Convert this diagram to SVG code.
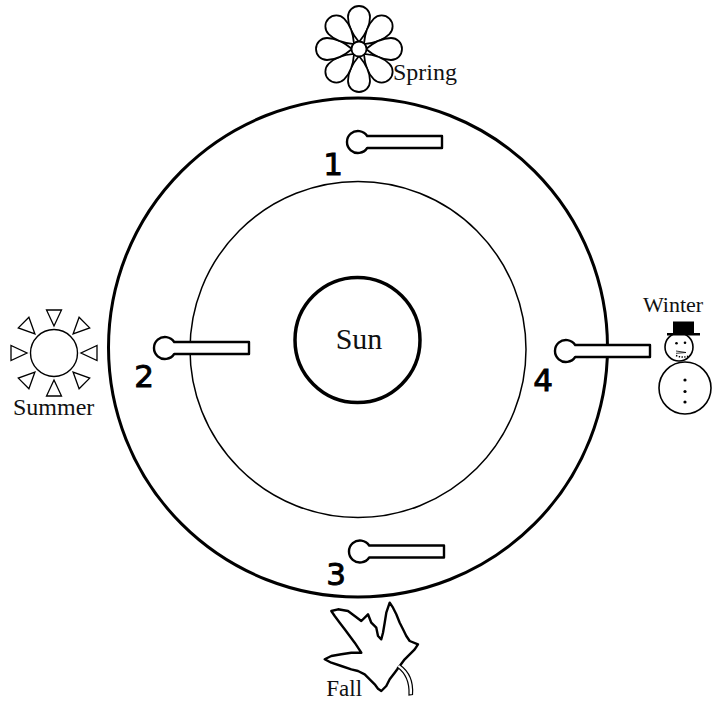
<svg xmlns="http://www.w3.org/2000/svg" xmlns:xlink="http://www.w3.org/1999/xlink" width="716" height="704" viewBox="0 0 716 704">
<style>
.serif{font-family:"Liberation Serif","Times New Roman",serif;fill:#111}
.num{font-family:"DejaVu Sans","Liberation Sans",sans-serif;font-size:31px;fill:#000;stroke:#000;stroke-width:0.9}
</style>
<defs>
<path id="earthShape" d="M 9.2 -6 L 84 -6 L 84 6 L 9.2 6 A 11 11 0 1 1 9.2 -6 Z" fill="#fff" stroke="#000" stroke-width="2.4" stroke-linejoin="round"/>
<path id="petal" d="M 0 -7 C -6 -14 -11 -22 -11 -32 A 11 11 0 0 1 11 -32 C 11 -22 6 -14 0 -7 Z" fill="#fff" stroke="#000" stroke-width="1.8"/>
<polygon id="ray" points="-7.5,-43 7.5,-43 0,-27" fill="#fff" stroke="#000" stroke-width="1.3" stroke-linejoin="miter"/>
</defs>
<rect width="716" height="704" fill="#fff"/>

<g id="orbit-outer"><circle cx="358" cy="347.5" r="249.5" fill="none" stroke="#000" stroke-width="3"/></g>
<g id="orbit-inner"><circle cx="358" cy="349.5" r="168" fill="none" stroke="#000" stroke-width="1.5"/></g>

<g id="sun">
<circle cx="357.5" cy="340" r="62.5" fill="#fff" stroke="#000" stroke-width="3.5"/>
<text class="serif" x="359" y="349" font-size="30" text-anchor="middle">Sun</text>
</g>

<g id="earth-1"><use xlink:href="#earthShape" transform="translate(358,142)"/><text class="num" x="333" y="175" text-anchor="middle">1</text></g>
<g id="earth-2"><use xlink:href="#earthShape" transform="translate(165,348)"/><text class="num" x="144" y="387" text-anchor="middle">2</text></g>
<g id="earth-3"><use xlink:href="#earthShape" transform="translate(360,551.5)"/><text class="num" x="336" y="585" text-anchor="middle">3</text></g>
<g id="earth-4"><use xlink:href="#earthShape" transform="translate(566,351)"/><text class="num" x="543" y="391" text-anchor="middle">4</text></g>

<g id="spring">
<g transform="translate(359,49)">
<use xlink:href="#petal" transform="rotate(0)"/>
<use xlink:href="#petal" transform="rotate(45)"/>
<use xlink:href="#petal" transform="rotate(90)"/>
<use xlink:href="#petal" transform="rotate(135)"/>
<use xlink:href="#petal" transform="rotate(180)"/>
<use xlink:href="#petal" transform="rotate(225)"/>
<use xlink:href="#petal" transform="rotate(270)"/>
<use xlink:href="#petal" transform="rotate(315)"/>
<circle r="7.5" fill="#fff" stroke="#000" stroke-width="1.8"/>
</g>
<text class="serif" x="393" y="80" font-size="24">Spring</text>
</g>

<g id="summer">
<g transform="translate(54,353)">
<circle r="23.5" fill="#fff" stroke="#000" stroke-width="1.4"/>
<use xlink:href="#ray" transform="rotate(0)"/>
<use xlink:href="#ray" transform="rotate(45)"/>
<use xlink:href="#ray" transform="rotate(90)"/>
<use xlink:href="#ray" transform="rotate(135)"/>
<use xlink:href="#ray" transform="rotate(180)"/>
<use xlink:href="#ray" transform="rotate(225)"/>
<use xlink:href="#ray" transform="rotate(270)"/>
<use xlink:href="#ray" transform="rotate(315)"/>
</g>
<text class="serif" x="13" y="415" font-size="24">Summer</text>
</g>

<g id="winter">
<text class="serif" x="673" y="312" font-size="22" text-anchor="middle">Winter</text>
<circle cx="685" cy="388" r="26" fill="#fff" stroke="#000" stroke-width="1.6"/>
<circle cx="679" cy="347" r="14" fill="#fff" stroke="#000" stroke-width="1.6"/>
<rect x="673" y="321.5" width="21" height="12" fill="#000"/>
<rect x="667" y="333" width="33" height="2.5" fill="#000"/>
<circle cx="676.5" cy="343.3" r="1.3" fill="#000"/>
<circle cx="685" cy="342.7" r="1.3" fill="#000"/>
<path d="M 676 351 L 686 352.5 L 676 353.3" fill="none" stroke="#000" stroke-width="0.8"/>
<path d="M 676 355.5 Q 684 359 692 354.5" fill="none" stroke="#000" stroke-width="1.4" stroke-dasharray="1.4 1.4"/>
<circle cx="685" cy="380" r="1.6" fill="#000"/>
<circle cx="685" cy="391.5" r="1.6" fill="#000"/>
<circle cx="685" cy="402" r="1.6" fill="#000"/>
</g>

<g id="fall">
<path d="M 331.3 611 L 338 609.3 L 348 611 L 354.7 616 L 361.3 621 L 368 614.3 L 371.3 622.7 L 376.3 627.7 L 378 636 L 381.3 639.3 L 383 632.7 L 384.7 622.7 L 386.3 612.7 L 389.7 602.7 L 393 607.7 L 396.3 614.3 L 399.7 622.7 L 403 629.3 L 406.3 636 L 409.7 641 L 418 644.3 L 414.7 649.3 L 409.7 654.3 L 404.7 659.3 L 399.7 666 L 394.7 672.7 L 389.7 679.3 L 386.3 686 L 381.3 691 L 378 688.7 L 374.7 684.3 L 369.7 679.3 L 364.7 674.3 L 358 671 L 351.3 669.3 L 341.3 666 L 331.3 662.7 L 324.7 659.3 L 331.3 656 L 341.3 654.3 L 351.3 652.7 L 361.3 652.7 L 354.7 642.7 L 349.7 636 L 344.7 629.3 L 339.7 622.7 L 334.7 616 Z" fill="#fff" stroke="#000" stroke-width="2.4" stroke-linejoin="round"/>
<path d="M 397 667 Q 410 676 409 695 L 412.5 694.5 Q 414 675 400 665" fill="#fff" stroke="#000" stroke-width="1.2"/>
<text class="serif" x="326.3" y="696" font-size="23">Fall</text>
</g>
</svg>
